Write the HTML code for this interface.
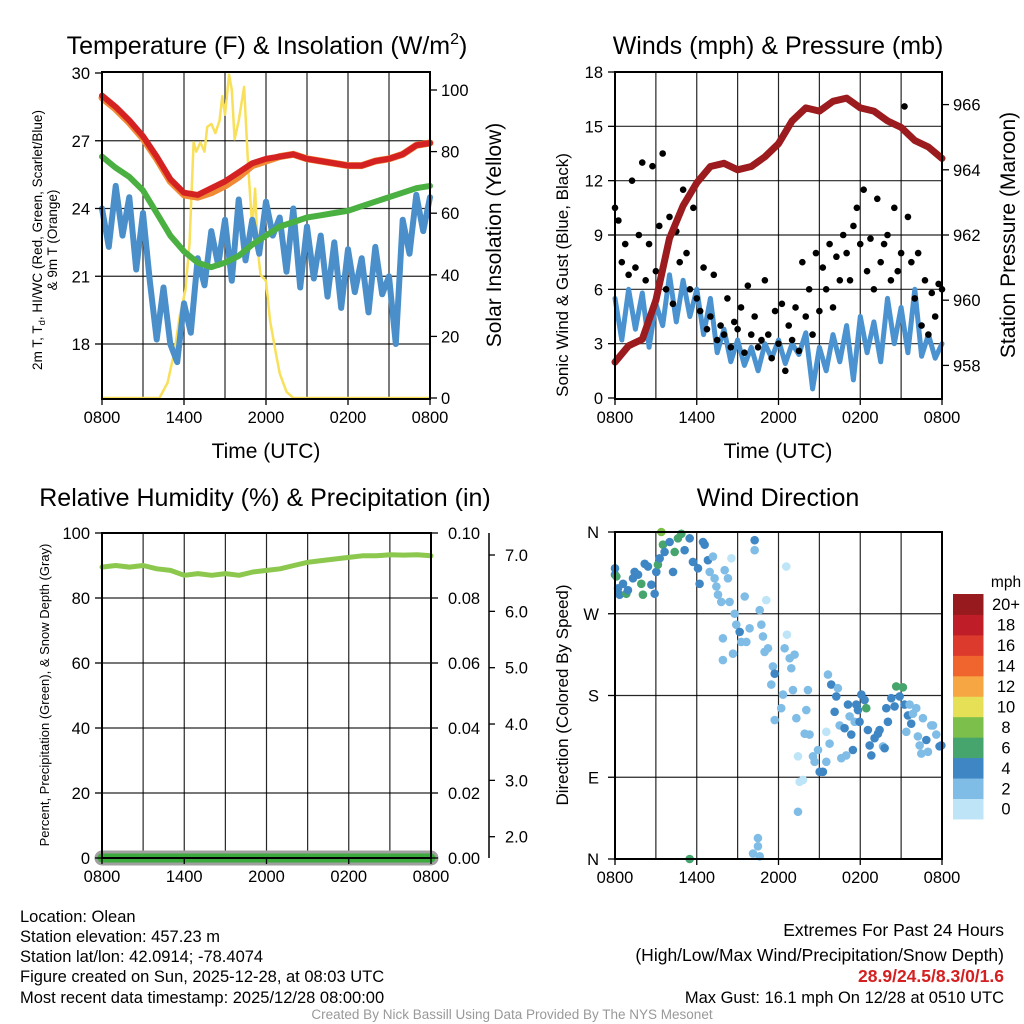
<!DOCTYPE html>
<html><head><meta charset="utf-8"><style>
body{margin:0;background:#fff;}
svg{display:block;font-family:"Liberation Sans",sans-serif;}
</style></head><body>
<svg id="chart" width="1024" height="1024" viewBox="0 0 1024 1024" xmlns="http://www.w3.org/2000/svg">
<rect width="1024" height="1024" fill="#fff"/>
<text x="267" y="54" font-size="25" text-anchor="middle">Temperature (F) &amp; Insolation (W/m<tspan font-size="16" dy="-10">2</tspan><tspan dy="10">)</tspan></text>
<text x="778" y="54" font-size="25" text-anchor="middle">Winds (mph) &amp; Pressure (mb)</text>
<text x="265" y="506" font-size="25" text-anchor="middle">Relative Humidity (%) &amp; Precipitation (in)</text>
<text x="778" y="506" font-size="25" text-anchor="middle">Wind Direction</text>
<text x="266" y="458" font-size="21" text-anchor="middle">Time (UTC)</text>
<text x="778" y="458" font-size="21" text-anchor="middle">Time (UTC)</text>
<g font-size="13.5" text-anchor="middle">
<text transform="translate(42,240) rotate(-90)">2m T, T<tspan font-size="9.5" dy="3">d</tspan><tspan dy="-3">, HI/WC (Red, Green, Scarlet/Blue)</tspan></text>
<text transform="translate(57,240) rotate(-90)">&amp; 9m T (Orange)</text>
</g>
<text transform="translate(501,235) rotate(-90)" font-size="21" text-anchor="middle">Solar Insolation (Yellow)</text>
<text transform="translate(568,275) rotate(-90)" font-size="17" text-anchor="middle">Sonic Wind &amp; Gust (Blue, Black)</text>
<text transform="translate(1015,235) rotate(-90)" font-size="21" text-anchor="middle">Station Pressure (Maroon)</text>
<text transform="translate(49,695) rotate(-90)" font-size="13" text-anchor="middle">Percent, Precipitation (Green), &amp; Snow Depth (Gray)</text>
<text transform="translate(568,695) rotate(-90)" font-size="17" text-anchor="middle">Direction (Colored By Speed)</text>
<g font-size="16.5">
<text x="20" y="922">Location: Olean</text>
<text x="20" y="942">Station elevation: 457.23 m</text>
<text x="20" y="962">Station lat/lon: 42.0914; -78.4074</text>
<text x="20" y="982">Figure created on Sun, 2025-12-28, at 08:03 UTC</text>
<text x="20" y="1003">Most recent data timestamp: 2025/12/28 08:00:00</text>
</g>
<g font-size="17.5" text-anchor="end">
<text x="1004" y="936">Extremes For Past 24 Hours</text>
<text x="1004" y="961">(High/Low/Max Wind/Precipitation/Snow Depth)</text>
<text x="1004" y="982" fill="#d42020" font-weight="bold">28.9/24.5/8.3/0/1.6</text>
<text x="1004" y="1003" font-size="16.5">Max Gust: 16.1 mph On 12/28 at 0510 UTC</text>
</g>
<text x="512" y="1019" font-size="13.5" fill="#999" text-anchor="middle">Created By Nick Bassill Using Data Provided By The NYS Mesonet</text>
<text x="1006" y="587" font-size="15.5" text-anchor="middle">mph</text>
</svg>
<script>
// ---------- DATA ----------
const timeTicks = ['0800','1400','2000','0200','0800'];
const hourly = [0,1,2,3,4,5,6,7,8,9,10,11,12,13,14,15,16,17,18,19,20,21,22,23,24];
const halfHourly = [0,0.5,1,1.5,2,2.5,3,3.5,4,4.5,5,5.5,6,6.5,7,7.5,8,8.5,9,9.5,10,10.5,11,11.5,12,12.5,13,13.5,14,14.5,15,15.5,16,16.5,17,17.5,18,18.5,19,19.5,20,20.5,21,21.5,22,22.5,23,23.5,24];
const tempTicks = [18,21,24,27,30];
const solarTicks = [0,20,40,60,80,100];
const temp2m = [29.0,28.5,27.9,27.2,26.3,25.3,24.7,24.6,24.9,25.2,25.6,26.0,26.2,26.3,26.4,26.2,26.1,26.0,25.9,25.9,26.1,26.2,26.4,26.8,26.9];
const temp9m = [28.9,28.4,27.8,27.1,26.2,25.2,24.6,24.5,24.7,25.0,25.4,25.9,26.1,26.3,26.4,26.2,26.1,26.0,25.9,25.9,26.1,26.2,26.4,26.8,26.9];
const dewpoint = [26.3,25.8,25.4,24.8,23.8,22.8,22.1,21.6,21.4,21.6,21.9,22.4,22.8,23.2,23.4,23.6,23.7,23.8,23.9,24.1,24.3,24.5,24.7,24.9,25.0];
const windChill = [24.0,22.3,25.0,22.8,24.5,21.3,23.8,20.8,18.2,20.5,18.0,17.2,19.8,18.5,21.8,20.6,23.0,21.5,23.5,20.8,24.4,21.7,23.5,22.0,24.3,22.8,23.6,21.2,24.0,20.5,23.2,20.9,22.8,20.1,22.5,19.6,22.2,20.3,21.8,19.4,22.3,20.2,21.0,18.0,23.5,22.0,24.6,23.0,24.5];
const solarTimes = [0,4.2,4.8,5.3,5.7,6.1,6.4,6.7,6.9,7.2,7.5,7.7,8.0,8.3,8.6,8.8,9.0,9.3,9.5,9.7,10.0,10.4,10.7,11.0,11.2,11.4,11.6,12.0,12.3,12.7,13.0,13.5,14.0,24];
const solarValues = [0,0,5,15,27,35,50,83,80,83,80,88,89,86,90,98,92,105,100,84,90,101,75,55,68,48,40,38,25,15,8,2,0,0];
const windTicks = [0,3,6,9,12,15,18];
const pressureTicks = [958,960,962,964,966];
const pressure = [958.1,958.6,958.8,960.0,961.9,962.9,963.6,964.1,964.2,964.0,964.1,964.4,964.8,965.5,965.9,965.8,966.1,966.2,965.9,965.8,965.5,965.3,964.9,964.7,964.35];
const windSpeed = [5.5,3.2,6.0,3.8,5.8,2.8,5.2,4.0,6.8,4.2,6.5,4.5,6.0,3.5,5.5,2.5,3.8,2.0,3.2,1.8,2.8,1.5,3.0,2.2,3.2,1.9,3.0,2.4,3.6,0.5,2.8,1.5,3.5,2.0,4.0,1.0,4.5,2.5,4.2,2.0,5.5,3.0,5.0,2.5,6.0,2.3,3.5,2.2,3.0];
const gustValues = [10.5,9.8,7.5,8.5,6.8,12.0,7.2,9.0,13.0,6.5,8.5,12.8,7.0,9.5,13.5,6.0,10.0,5.2,9.2,7.5,11.5,8.0,6.0,10.5,5.5,4.8,7.2,3.8,4.5,6.8,3.2,4.0,3.5,5.5,2.8,4.2,3.8,5.0,2.5,6.2,3.5,4.5,2.8,3.2,6.5,3.5,2.2,4.8,3.0,5.2,1.5,4.0,3.2,5.0,2.6,7.5,4.5,6.0,3.5,8.0,4.8,7.2,6.0,8.5,5.0,7.8,6.5,9.0,8.0,6.5,9.5,10.5,8.5,11.5,7.0,8.8,6.0,11.0,7.5,8.5,9.0,6.5,10.5,7.0,8.0,16.1,10.0,7.5,5.5,8.0,4.0,6.5,3.5,5.8,4.5,6.3,6.0];
const rhTicks = [0,20,40,60,80,100];
const precipTicks = ['0.00','0.02','0.04','0.06','0.08','0.10'];
const snowTicks = [2.0,3.0,4.0,5.0,6.0,7.0];
const humidity = [89.5,90,89.5,90,89,88.5,87,87.5,87,87.5,87,88,88.5,89,90,91,91.5,92,92.5,93,93,93.3,93.2,93.3,93];
const precip = [0,0,0,0,0,0,0,0,0,0,0,0,0,0,0,0,0,0,0,0,0,0,0,0,0];
const dirLabels = ['N','E','S','W','N'];
const dirTimes = [0,0,0.1,0.22,0.34,0.59,0.83,0.95,1.32,1.44,1.69,1.93,2.05,2.18,2.42,2.67,2.91,3.03,3.15,3.28,3.4,3.52,3.64,4.01,4.26,4.38,4.62,4.87,5.11,5.48,5.72,6.09,6.21,6.46,6.58,6.82,6.95,7.19,7.31,7.44,7.56,7.8,7.92,7.92,8.05,8.29,8.41,8.54,8.66,8.78,8.9,9.15,9.27,9.52,9.64,9.88,10.25,10.25,10.62,10.74,10.86,10.98,11.1,11.23,11.47,11.59,11.72,11.72,12.2,12.33,12.45,12.57,12.62,12.82,12.94,13.06,13.18,13.31,13.43,13.55,13.8,13.92,14.04,14.16,14.28,14.53,14.65,14.9,15.02,15.26,15.51,15.51,15.63,15.75,15.87,16.12,16.24,16.36,16.49,16.61,16.85,16.97,17.1,17.22,17.34,17.46,17.59,17.71,17.83,17.95,18.08,18.32,18.44,18.56,18.69,18.81,19.05,19.3,19.42,19.67,19.79,19.91,20.03,20.28,20.52,20.64,20.89,21.13,21.25,21.38,21.5,21.62,21.74,21.87,22.11,22.23,22.36,22.48,22.6,22.85,22.97,23.21,23.34,23.58,23.82,23.95,13.43,10.49,10.49,10.13,10.62,5.48];
const dirDegrees = [320,313,311,298,291,303,292,296,309,316,313,303,291,325,322,302,292,316,324,331,360,346,338,349,316,338,353,358,340,353,327,320,303,349,346,329,316,333,309,300,291,283,243,219,318,309,283,331,226,270,258,250,239,289,239,254,351,340,274,258,245,228,285,232,192,212,204,153,166,181,232,322,247,221,210,186,225,155,113,85,87,138,164,186,137,113,107,120,96,96,107,140,203,127,192,162,179,188,147,111,144,114,170,157,137,120,151,170,164,151,181,175,166,142,125,114,133,138,142,124,122,166,151,177,168,190,179,189,170,140,158,170,149,160,166,135,125,116,155,131,118,147,147,137,124,125,52,23,14,6,3,0];
const dirSpeeds = [4.5,4.5,6.5,4.5,4.5,4.5,6.5,4.5,4.5,4.5,4.5,6.5,6.5,4.5,4.5,4.5,4.5,4.5,6.5,4.5,8.5,6.5,4.5,4.5,4.5,6.5,6.5,6.5,4.5,4.5,4.5,4.5,4.5,4.5,4.5,4.5,3,3,3,3,3,3,3,3,3,3,3,1,3,3,3,4.5,3,3,3,3,4.5,3,3,3,3,3,1,3,3,3,4.5,3,3,3,3,1,1,3,3,3,3,3,1,1,1,3,3,3,3,3,3,3,4.5,4.5,3,1,3,3,4.5,4.5,4.5,3,3,3,4.5,3,4.5,3,4.5,4.5,3,4.5,4.5,4.5,4.5,4.5,6.5,4.5,4.5,4.5,4.5,4.5,4.5,3,4.5,4.5,4.5,4.5,4.5,6.5,4.5,6.5,4.5,3,4.5,3,4.5,3,3,3,3,3,3,4.5,3,3,3,3,4.5,4.5,3,3,3,3,3,6.5];
const speedLevels = ['0','2','4','6','8','10','12','14','16','18','20+'];
const speedColors = ['#bde5f7','#7fbce6','#3f87c4','#46a56c','#7cc04b','#e6e057','#f6a643','#f0652d','#dc3a2c','#bf1e28','#971b1e'];

// ---------- HELPERS ----------
const NS = 'http://www.w3.org/2000/svg';
const svg = document.getElementById('chart');
const TF = 16.5;
function mk(tag, attrs, parent) {
  const e = document.createElementNS(NS, tag);
  for (const k in attrs) e.setAttribute(k, attrs[k]);
  (parent || svg).appendChild(e);
  return e;
}
function scale(d0, d1, r0, r1) { return v => r0 + (v - d0) / (d1 - d0) * (r1 - r0); }
function drawLine(xs, ys, xf, yf, color, w, name) {
  let d = '';
  xs.forEach((t, i) => { d += (i ? 'L' : 'M') + xf(t).toFixed(1) + ',' + yf(ys[i]).toFixed(1); });
  const p = mk('path', {d: d, fill: 'none', stroke: color, 'stroke-width': w, 'stroke-linejoin': 'round', 'stroke-linecap': 'round'});
  
  
  return p;
}
function frame(x0, x1, y0, y1, name) {
  const r = mk('rect', {x: x0, y: y0, width: x1 - x0, height: y1 - y0, fill: 'none', stroke: '#000', 'stroke-width': 2});
  
  
}
function grid(x0, x1, y0, y1, ys) {
  for (let h = 3; h < 24; h += 3) {
    const x = x0 + h / 24 * (x1 - x0);
    const g = mk('line', {x1: x, x2: x, y1: y0, y2: y1, stroke: '#000', 'stroke-width': 1.2, 'stroke-opacity': 0.85});
    
    
  }
  ys.forEach(y => {
    const g = mk('line', {x1: x0, x2: x1, y1: y, y2: y, stroke: '#000', 'stroke-width': 1.2, 'stroke-opacity': 0.85});
    
    
  });
}
function xTicks(x0, x1, yb) {
  timeTicks.forEach((lab, i) => {
    const x = x0 + i * 6 / 24 * (x1 - x0);
    mk('line', {x1: x, x2: x, y1: yb, y2: yb + 6, stroke: '#000', 'stroke-width': 1.3});
    const t = mk('text', {x: x, y: yb + 24, 'font-size': TF, 'text-anchor': 'middle'});
    t.textContent = lab;
    
    
  });
}
function yTicksLeft(x0, ticks, yf, fmt) {
  ticks.forEach(v => {
    const y = yf(v);
    mk('line', {x1: x0 - 7, x2: x0, y1: y, y2: y, stroke: '#000', 'stroke-width': 1.3});
    const t = mk('text', {x: x0 - 12, y: y + 6, 'font-size': TF, 'text-anchor': 'end'});
    t.textContent = fmt ? fmt(v) : v;
    
    
  });
}
function yTicksRight(x1, ticks, yf, fmt, off) {
  ticks.forEach(v => {
    const y = yf(v);
    mk('line', {x1: x1, x2: x1 + 7, y1: y, y2: y, stroke: '#000', 'stroke-width': 1.3});
    const t = mk('text', {x: x1 + (off || 11), y: y + 6, 'font-size': TF, 'text-anchor': 'start'});
    t.textContent = fmt ? fmt(v) : v;
    
    
  });
}

// ---------- PANEL 1: TEMPERATURE ----------
{
  const X0 = 102, X1 = 430, Y0 = 72, Y1 = 399;
  const x = scale(0, 24, X0, X1);
  const y = scale(30, 18, 73, 344);
  const yS = scale(0, 100, 398, 90);
  grid(X0, X1, Y0, Y1, [18, 21, 24, 27].map(y));
  drawLine(solarTimes, solarValues, x, yS, '#f8e05a', 2.5, 'solar-insolation-line');
  drawLine(halfHourly, windChill, x, y, '#4a8fca', 6, 'wind-chill-line');
  drawLine(hourly, dewpoint, x, y, '#4bb042', 6, 'dewpoint-line');
  drawLine(hourly, temp9m, x, y, '#f08a35', 7, 'temp-9m-line');
  drawLine(hourly, temp2m, x, y, '#d42222', 6, 'temp-2m-line');
  frame(X0, X1, Y0, Y1, 'temperature-plot-area');
  xTicks(X0, X1, Y1);
  yTicksLeft(X0, tempTicks, y);
  yTicksRight(X1, solarTicks, yS);
}

// ---------- PANEL 2: WINDS & PRESSURE ----------
{
  const X0 = 615, X1 = 942, Y0 = 72, Y1 = 399;
  const x = scale(0, 24, X0, X1);
  const y = scale(0, 18, 398, 72);
  const yP = scale(957, 967, 398, 72);
  grid(X0, X1, Y0, Y1, [3, 6, 9, 12, 15].map(y));
  drawLine(halfHourly, windSpeed, x, y, '#4a93d0', 5, 'sonic-wind-line');
  gustValues.forEach((v, i) => {
    const c = mk('circle', {cx: x(i * 0.25), cy: y(v), r: 3.3, fill: '#000'});
    
    
  });
  drawLine(hourly, pressure, x, yP, '#9b1b1e', 7, 'pressure-line');
  frame(X0, X1, Y0, Y1, 'winds-plot-area');
  xTicks(X0, X1, Y1);
  yTicksLeft(X0, windTicks, y);
  yTicksRight(X1, pressureTicks, yP);
}

// ---------- PANEL 3: HUMIDITY & PRECIP ----------
{
  const X0 = 102, X1 = 431, Y0 = 533, Y1 = 858;
  const x = scale(0, 24, X0, X1);
  const y = scale(0, 100, 858, 533);
  const yPr = scale(0, 0.10, 858, 533);
  const ySn = scale(2, 7, 836.7, 555);
  grid(X0, X1, Y0, Y1, [20, 40, 60, 80].map(y));
  drawLine(hourly, precip, x, yPr, '#a0a0a0', 15, 'snow-depth-line');
  drawLine(hourly, precip, x, yPr, '#3daa3d', 9, 'precipitation-line');
  drawLine(hourly, humidity, x, y, '#8cc84e', 5, 'humidity-line');
  frame(X0, X1, Y0, Y1, 'humidity-plot-area');
  xTicks(X0, X1, Y1);
  yTicksLeft(X0, rhTicks, y);
  precipTicks.forEach(v => {
    const yy = yPr(parseFloat(v));
    mk('line', {x1: X1, x2: X1 + 7, y1: yy, y2: yy, stroke: '#000', 'stroke-width': 1.3});
    const t = mk('text', {x: X1 + 17, y: yy + 6, 'font-size': TF});
    t.textContent = v;
    
    
  });
  const ax = mk('line', {x1: 489, x2: 489, y1: 533, y2: 858, stroke: '#000', 'stroke-width': 1.5});
  
  
  snowTicks.forEach(v => {
    const yy = ySn(v);
    mk('line', {x1: 489, x2: 495, y1: yy, y2: yy, stroke: '#000', 'stroke-width': 1.3});
    const t = mk('text', {x: 505, y: yy + 6, 'font-size': TF});
    t.textContent = v.toFixed(1);
    
    
  });
}

// ---------- PANEL 4: WIND DIRECTION ----------
{
  const X0 = 615, X1 = 942, Y0 = 532, Y1 = 859;
  const x = scale(0, 24, X0, X1);
  const y = scale(0, 360, 859, 532);
  grid(X0, X1, Y0, Y1, [90, 180, 270].map(y));
  dirTimes.forEach((t, i) => {
    const c = mk('circle', {cx: x(t), cy: y(dirDegrees[i]), r: 4.3, fill: speedColors[Math.min(10, Math.floor(dirSpeeds[i] / 2))]});
    
    
  });
  frame(X0, X1, Y0, Y1, 'direction-plot-area');
  xTicks(X0, X1, Y1);
  dirLabels.forEach((lab, i) => {
    const yy = y(i * 90);
    mk('line', {x1: X0 - 7, x2: X0, y1: yy, y2: yy, stroke: '#000', 'stroke-width': 1.3});
    const t = mk('text', {x: X0 - 16, y: yy + 6, 'font-size': TF, 'text-anchor': 'end'});
    t.textContent = lab;
    
    
  });
  const bh = 20.45, top = 594;
  speedLevels.forEach((lab, i) => {
    const k = 10 - i;
    const r = mk('rect', {x: 953, y: top + k * bh, width: 30.5, height: bh + 0.5, fill: speedColors[i]});
    
    
    const t = mk('text', {x: 1006, y: top + k * bh + bh / 2 + 6, 'font-size': TF, 'text-anchor': 'middle'});
    t.textContent = lab;
    
    
  });
}
</script>
</body></html>
